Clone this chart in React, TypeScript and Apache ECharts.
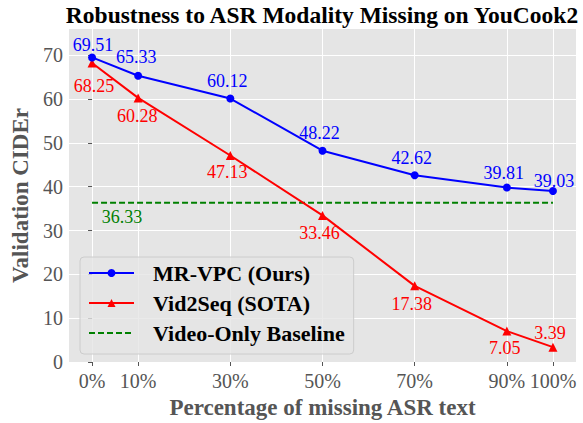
import React, { useEffect, useRef } from "react";
import * as echarts from "echarts";

const xValues = [0, 10, 30, 50, 70, 90, 100];
const xTickLabels = ["0%", "10%", "30%", "50%", "70%", "90%", "100%"];
const yTicks = [0, 10, 20, 30, 40, 50, 60, 70];
const mrvpc = [69.51, 65.33, 60.12, 48.22, 42.62, 39.81, 39.03];
const vid2seq = [68.25, 60.28, 47.13, 33.46, 17.38, 7.05, 3.39];
const baseline = 36.33;

const blueOffsets = [[1, -12], [-2, -19], [-3, -18], [-3, -18], [-3, -17], [-3, -15], [1, -10]];
const redOffsets = [[2, 23], [-1, 18], [-3, 17], [-3, 18], [-3, 18], [-2, 17], [-3, -14]];

const FONT = "Liberation Serif";

export default function App() {
  const ref = useRef<HTMLDivElement>(null);
  useEffect(() => {
    const chart = echarts.init(ref.current!, null, { renderer: "svg" });
    const labelStyle = (color: string, off: number[]) => ({
      show: true,
      position: "inside",
      offset: off,
      color,
      fontFamily: FONT,
      fontWeight: "normal",
      fontSize: 18,
    });
    chart.setOption({
      animation: false,
      backgroundColor: "#ffffff",
      textStyle: { fontFamily: FONT },
      title: {
        text: "Robustness to ASR Modality Missing on YouCook2",
        left: 322,
        top: 3,
        textAlign: "center",
        textVerticalAlign: "top",
        padding: 0,
        textStyle: { fontFamily: FONT, fontWeight: "bold", fontSize: 23.5, color: "#000" },
      },
      grid: {
        left: 69,
        right: 7,
        top: 29,
        bottom: 61,
        containLabel: false,
        outerBoundsMode: "none",
        show: true,
        backgroundColor: "#E5E5E5",
        borderWidth: 0,
      },
      legend: {
        orient: "vertical",
        left: 80,
        top: 257,
        padding: [5, 9, 10, 8],
        itemWidth: 45,
        itemHeight: 10,
        itemGap: 8,
        backgroundColor: "rgba(229,229,229,0.8)",
        borderColor: "#cccccc",
        borderWidth: 1,
        borderRadius: 4,
        textStyle: {
          fontFamily: FONT,
          fontWeight: "bold",
          fontSize: 22,
          color: "#000",
          lineHeight: 22,
          padding: [0, 0, 0, 14],
        },
        data: [
          "MR-VPC (Ours)",
          "Vid2Seq (SOTA)",
          { name: "Video-Only Baseline", itemStyle: { opacity: 0 } },
        ],
      },
      xAxis: {
        type: "value",
        min: -5,
        max: 105,
        name: "Percentage of missing ASR text",
        nameLocation: "middle",
        nameGap: 31,
        nameTextStyle: { fontFamily: FONT, fontWeight: "bold", fontSize: 23, color: "#555" },
        axisLine: { show: false },
        axisTick: { show: true, length: 4, lineStyle: { color: "#555" }, customValues: xValues },
        axisLabel: {
          customValues: xValues,
          margin: 9,
          fontFamily: FONT,
          fontWeight: "normal",
          fontSize: 20,
          color: "#555",
          formatter: (v: number) => xTickLabels[xValues.indexOf(v)] ?? "",
        },
        splitLine: { show: true, lineStyle: { color: "#ffffff", width: 1 } },
      },
      yAxis: {
        type: "value",
        min: 0,
        max: 76,
        interval: 10,
        name: "Validation CIDEr",
        nameLocation: "middle",
        nameGap: 35,
        nameTextStyle: { fontFamily: FONT, fontWeight: "bold", fontSize: 23, color: "#555" },
        axisLine: { show: false },
        axisTick: { show: true, length: 4, lineStyle: { color: "#555" }, customValues: yTicks },
        axisLabel: {
          customValues: yTicks,
          margin: 6,
          fontFamily: FONT,
          fontWeight: "normal",
          fontSize: 20,
          color: "#555",
        },
        splitLine: { show: true, lineStyle: { color: "#ffffff", width: 1 } },
      },
      series: [
        {
          name: "MR-VPC (Ours)",
          type: "line",
          symbol: "circle",
          symbolSize: 8,
          color: "#0000ff",
          lineStyle: { width: 2, color: "#0000ff" },
          itemStyle: { color: "#0000ff" },
          z: 4,
          data: xValues.map((x, i) => ({
            value: [x, mrvpc[i]],
            label: labelStyle("#0000ff", blueOffsets[i]),
          })),
        },
        {
          name: "Vid2Seq (SOTA)",
          type: "line",
          symbol: "triangle",
          symbolSize: 9,
          color: "#ff0000",
          lineStyle: { width: 2, color: "#ff0000" },
          itemStyle: { color: "#ff0000" },
          z: 3,
          data: xValues.map((x, i) => ({
            value: [x, vid2seq[i]],
            label: labelStyle("#ff0000", redOffsets[i]),
          })),
        },
        {
          name: "Video-Only Baseline",
          type: "line",
          symbol: "none",
          color: "#008000",
          lineStyle: { width: 2, color: "#008000", type: [6, 3] },
          z: 2,
          data: [
            [xValues[0], baseline],
            [xValues[xValues.length - 1], baseline],
          ],
          markPoint: {
            symbol: "circle",
            symbolSize: 0,
            itemStyle: { color: "transparent" },
            label: {
              show: true,
              position: "inside",
              offset: [30, 14],
              color: "#008000",
              fontFamily: FONT,
              fontWeight: "normal",
              fontSize: 18,
              formatter: () => baseline.toFixed(2),
            },
            data: [{ coord: [xValues[0], baseline] }],
          },
        },
      ],
    });
    return () => chart.dispose();
  }, []);
  return (
    <div
      ref={ref}
      style={{ position: "fixed", left: 0, top: 0, width: 583, height: 423 }}
    />
  );
}
